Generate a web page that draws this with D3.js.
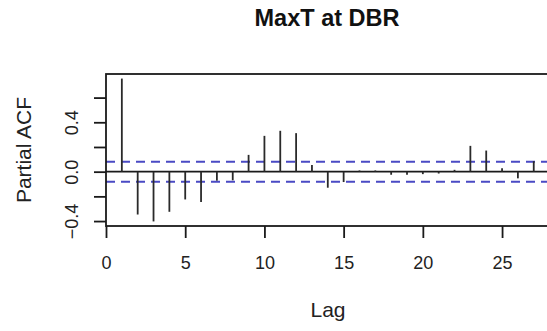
<!DOCTYPE html>
<html>
<head>
<meta charset="utf-8">
<script src="https://cdn.jsdelivr.net/npm/d3@7"></script>
<style>
  html, body { margin: 0; padding: 0; background: #fff; }
  svg { display: block; font-family: "Liberation Sans", Arial, Helvetica, sans-serif; }
</style>
</head>
<body>
<svg id="chart" width="547" height="331"></svg>
<script>
'use strict';

// partial autocorrelation, lags 1..27
const lags = [1, 2, 3, 4, 5, 6, 7, 8, 9, 10, 11, 12, 13, 14, 15, 16, 17, 18, 19, 20, 21, 22, 23, 24, 25, 26, 27];
const pacfValues = [0.754, -0.347, -0.403, -0.325, -0.225, -0.246, -0.073, -0.07, 0.136, 0.29, 0.331, 0.312,
                    0.054, -0.13, -0.084, 0.01, 0.01, -0.025, -0.025, -0.02, -0.015, 0.015, 0.209, 0.171,
                    0.027, -0.054, 0.085];
const ciBound = 0.081;

const xTicks = [0, 5, 10, 15, 20, 25];
const yTicks = [-0.4, -0.2, 0, 0.2, 0.4, 0.6];
const yLabelled = [-0.4, 0, 0.4];

const titleText = "MaxT at DBR";
const xTitle = "Lag";
const yTitle = "Partial ACF";

const svg = d3.select("#chart");

var margin = {
    'top'    : 74,
    'right'  : -1,
    "bottom" : 105,
    "left"   : 106
};
const width = 547, height = 331;

const xScale = d3.scaleLinear()
    .domain([0, 27.9])
    .range([margin.left, width - margin.right]);

const yScale = d3.scaleLinear()
    .domain([-0.44, 0.791])
    .range([height - margin.bottom, margin.top]);

const ink = "#1a1a1a";

// confidence band
svg.selectAll(".ci")
    .data([ciBound, -ciBound])
    .join("line")
    .attr("class", "ci")
    .attr("x1", margin.left)
    .attr("x2", width - margin.right)
    .attr("y1", d => yScale(d))
    .attr("y2", d => yScale(d))
    .attr("stroke", "#4a4ac4")
    .attr("stroke-width", 2)
    .attr("stroke-dasharray", "9,6");

// zero line
svg.append("line")
    .attr("x1", margin.left)
    .attr("x2", width - margin.right)
    .attr("y1", yScale(0))
    .attr("y2", yScale(0))
    .attr("stroke", ink)
    .attr("stroke-width", 1.8);

// spikes
svg.selectAll(".spike")
    .data(lags.map((l, i) => ({ lag: l, v: pacfValues[i] })))
    .join("line")
    .attr("class", "spike")
    .attr("x1", d => xScale(d.lag))
    .attr("x2", d => xScale(d.lag))
    .attr("y1", yScale(0))
    .attr("y2", d => yScale(d.v))
    .attr("stroke", "#2a2a2a")
    .attr("stroke-width", 1.8);

// box
svg.append("rect")
    .attr("x", margin.left)
    .attr("y", margin.top)
    .attr("width", width - margin.right - margin.left)
    .attr("height", height - margin.bottom - margin.top)
    .attr("fill", "none")
    .attr("stroke", ink)
    .attr("stroke-width", 1.8);

// axes
const xAxis = d3.axisBottom(xScale)
    .tickValues(xTicks)
    .tickSize(12)
    .tickFormat(d3.format("d"));
const gx = svg.append("g")
    .attr("transform", 'translate(0,' + (height - margin.bottom) + ')')
    .call(xAxis);
gx.select(".domain").remove();
gx.selectAll("line").attr("stroke", ink).attr("stroke-width", 1.8);
gx.selectAll("text")
    .attr("y", 43)
    .attr("dy", 0)
    .attr("fill", "#222")
    .style("font-size", "18px");

const yAxis = d3.axisLeft(yScale)
    .tickValues(yTicks)
    .tickSize(12)
    .tickFormat(d => yLabelled.some(v => Math.abs(v - d) < 1e-9) ? d3.format(".1f")(d) : "");
const gy = svg.append("g")
    .attr("transform", 'translate(' + margin.left + ',0)')
    .call(yAxis);
gy.select(".domain").remove();
gy.selectAll("line").attr("stroke", ink).attr("stroke-width", 1.8);
gy.selectAll("text")
    .attr("x", 0)
    .attr("y", -28)
    .attr("dy", 0)
    .attr("transform", "rotate(-90)")
    .attr("text-anchor", "middle")
    .attr("fill", "#222")
    .style("font-size", "18px");

// titles
svg.append("text")
    .attr("x", (margin.left + width - margin.right) / 2)
    .attr("y", 26)
    .attr("text-anchor", "middle")
    .attr("font-weight", "bold")
    .attr("font-size", "23.5px")
    .attr("fill", "#111")
    .text(titleText);

svg.append("text")
    .attr("x", 328)
    .attr("y", 317)
    .attr("text-anchor", "middle")
    .attr("font-size", "21px")
    .attr("fill", "#222")
    .text(xTitle);

svg.append("text")
    .attr("transform", 'translate(30.5,' + (margin.top + height - margin.bottom) / 2 + ') rotate(-90)')
    .attr("text-anchor", "middle")
    .attr("font-size", "21px")
    .attr("fill", "#222")
    .text(yTitle);
</script>
</body>
</html>
